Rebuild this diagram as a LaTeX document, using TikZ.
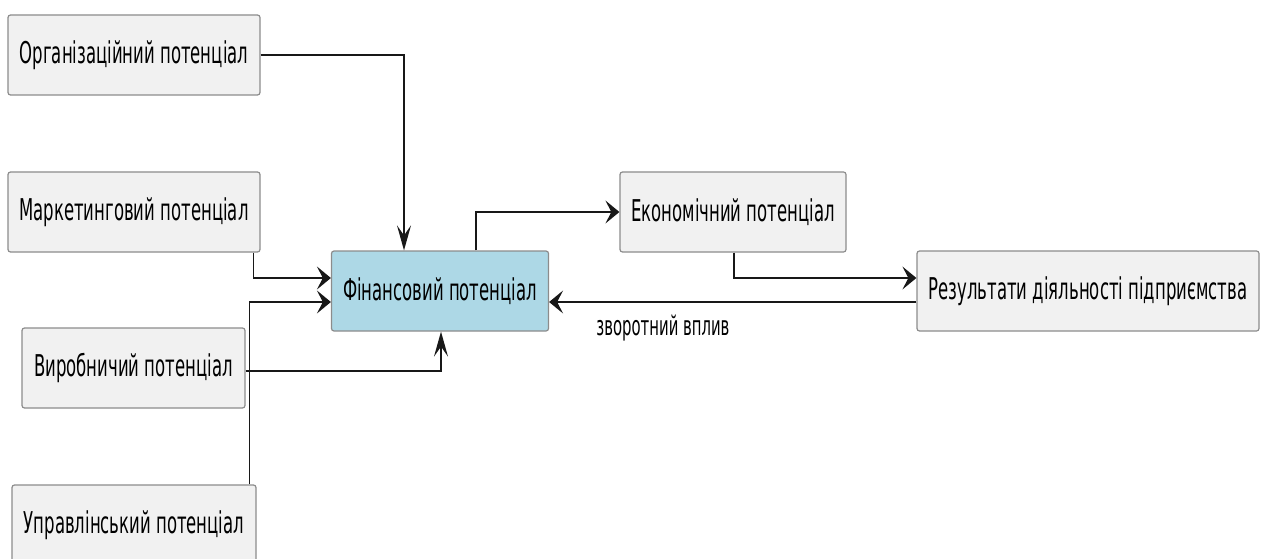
\documentclass[tikz,border=0pt]{standalone}
\usepackage{fontspec}
\setmainfont{DejaVu Sans}[FakeStretch=0.55]
\usetikzlibrary{arrows.meta}
\definecolor{boxgray}{RGB}{241,241,241}
\definecolor{boxline}{RGB}{140,140,140}
\definecolor{finblue}{RGB}{173,216,230}
\definecolor{edgecol}{RGB}{24,24,24}
\tikzstyle{bx}=[shape=rectangle, rounded corners=2.5pt, draw=boxline, line width=1.2pt, fill=boxgray, minimum height=80pt, inner sep=0, font=\fontsize{30}{36}\selectfont]
\tikzstyle{finbx}=[bx, fill=finblue]
\tikzstyle{hedge}=[draw=edgecol, line width=1.6pt, -{Stealth[length=14pt,width=23pt,inset=6pt]}]
\tikzstyle{vedge}=[draw=edgecol, line width=1.6pt, -{Stealth[length=25pt,width=14pt,inset=10pt]}]
\tikzstyle{lbl}=[font=\fontsize{27}{32}\selectfont, inner sep=0]
\begin{document}
\begin{tikzpicture}[x=1pt,y=-1pt]
\useasboundingbox (0,0) rectangle (1262,559);
\node at (134,55)[bx, minimum width=252pt](org){Організаційний потенціал};
\node at (134,212)[bx, minimum width=252pt](mark){Маркетинговий потенціал};
\node at (440,291)[finbx, minimum width=217pt](fin){Фінансовий потенціал};
\node at (733,212)[bx, minimum width=226pt](econ){Економічний потенціал};
\node at (1088,291)[bx, minimum width=342pt](res){Результати діяльності підприємства};
\node at (133.5,368)[bx, minimum width=223pt](vyr){Виробничий потенціал};
\node at (134,525)[bx, minimum width=244pt](upr){Управлінський потенціал};
% inputs
\draw[vedge] (org.east) -| ([xshift=-36pt]fin.north);
\draw[hedge] ([xshift=-7pt]mark.south east) |- ([yshift=13pt]fin.west);
\draw[hedge] ([xshift=-7pt]upr.north east) |- ([yshift=-11pt]fin.west);
\draw[vedge] ([yshift=-3pt]vyr.east) -| ([xshift=1pt]fin.south);
% outputs
\draw[hedge] ([xshift=36pt]fin.north) |- (econ.west);
\draw[hedge] ([xshift=1pt]econ.south) |- ([yshift=13pt]res.west);
\draw[hedge] ([yshift=-11pt]res.west) -- ([yshift=-11pt]fin.east)
  node[lbl, pos=0.69, below=12pt](fb){зворотний вплив};
\end{tikzpicture}
\end{document}
